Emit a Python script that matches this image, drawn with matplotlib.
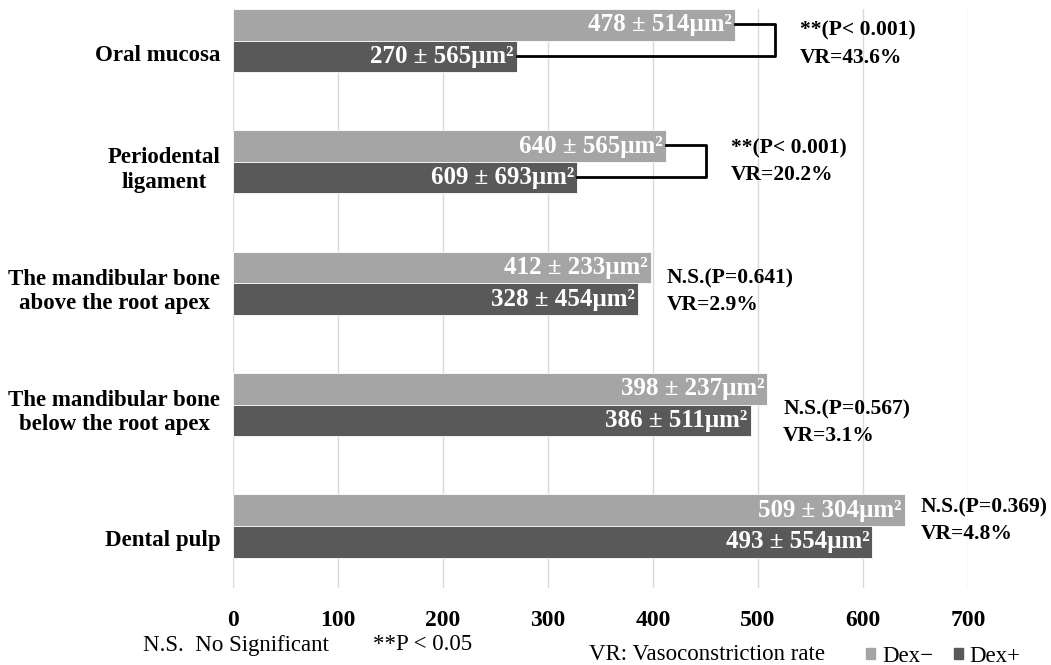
import matplotlib.pyplot as plt
from matplotlib.patches import Patch
from matplotlib.transforms import ScaledTranslation

plt.rcParams['font.family'] = ['Liberation Serif', 'DejaVu Serif']

# values (bar lengths as drawn, labels as printed)
categories = ['Oral mucosa', 'Periodental\nligament',
              'The mandibular bone\nabove the root apex',
              'The mandibular bone\nbelow the root apex', 'Dental pulp']
dex_minus = [478, 412, 398, 509, 640]
dex_plus = [270, 328, 386, 493, 609]
labels_minus = ['478 ± 514μm²', '640 ± 565μm²', '412 ± 233μm²', '398 ± 237μm²', '509 ± 304μm²']
labels_plus = ['270 ± 565μm²', '609 ± 693μm²', '328 ± 454μm²', '386 ± 511μm²', '493 ± 554μm²']
p_text = ['**(P< 0.001)', '**(P< 0.001)', 'N.S.(P=0.641)', 'N.S.(P=0.567)', 'N.S.(P=0.369)']
vr_text = ['VR=43.6%', 'VR=20.2%', 'VR=2.9%', 'VR=3.1%', 'VR=4.8%']
significant = [True, True, False, False, False]
xticks = [0, 100, 200, 300, 400, 500, 600, 700]

light = '#a5a5a5'
dark = '#595959'
h = 0.26

fig = plt.figure(figsize=(10.51, 6.65), dpi=100)
ax = fig.add_axes([233 / 1051, 1 - 587.5 / 665, (968 - 233) / 1051, (587.5 - 9) / 665])

y = list(range(len(categories)))
ax.barh([i - h / 2 for i in y], dex_minus, height=h, color=light, edgecolor='white', linewidth=0.6, zorder=2)
ax.barh([i + h / 2 for i in y], dex_plus, height=h, color=dark, edgecolor='white', linewidth=0.6, zorder=2)

ax.set_xlim(0, 700)
ax.set_ylim(4.507, -0.26)
ax.set_xticks(xticks)
ax.set_xticklabels([str(t) for t in xticks], fontsize=17, fontweight='bold')
ax.tick_params(axis='x', length=0, pad=16)
ax.grid(axis='x', color='#d9d9d9', linewidth=1, zorder=0)
ax.set_axisbelow(True)
for s in ax.spines.values():
    s.set_visible(False)

ax.set_yticks(y)
ax.set_yticklabels(categories, fontsize=16.5, fontweight='bold', multialignment='center')
ax.tick_params(axis='y', length=0, pad=9)
for lab in ax.get_yticklabels():
    dy = -0.12 if '\n' not in lab.get_text() else -0.04
    lab.set_transform(lab.get_transform() + ScaledTranslation(0, dy, fig.dpi_scale_trans))

# labels inside bars
for i in y:
    ax.text(dex_minus[i] - 3, i - h / 2, labels_minus[i], ha='right', va='center',
            color='white', fontsize=18, fontweight='bold', zorder=3)
    ax.text(dex_plus[i] - 3, i + h / 2, labels_plus[i], ha='right', va='center',
            color='white', fontsize=18, fontweight='bold', zorder=3)

# brackets and p-values
text_dy = [0.03, 0.0, 0.07, 0.15, -0.04]
for i in y:
    if significant[i]:
        xr = dex_minus[i] + 38
        ax.plot([dex_minus[i], xr, xr, dex_plus[i]],
                [i - 0.14, i - 0.14, i + 0.125, i + 0.125],
                color='black', linewidth=2, clip_on=False, zorder=3)
        tx = xr + 24
    else:
        tx = dex_minus[i] + 15
    ax.text(tx, i + text_dy[i], p_text[i] + '\n' + vr_text[i], ha='left', va='center',
            fontsize=15.5, fontweight='bold', linespacing=1.45, clip_on=False)

# footer notes
fig.text(143 / 1051, 1 - 645 / 665, 'N.S.  No Significant', ha='left', va='center', fontsize=16.5)
fig.text(373 / 1051, 1 - 645 / 665, '**P < 0.05', ha='left', va='center', fontsize=16.5)
fig.text(825 / 1051, 1 - 655 / 665, 'VR: Vasoconstriction rate', ha='right', va='center', fontsize=16.5)

handles = [Patch(color=light, label='Dex−'), Patch(color=dark, label='Dex+')]
fig.legend(handles=handles, loc='center left', bbox_to_anchor=(866 / 1051, 1 - 656 / 665),
           ncol=2, frameon=False, fontsize=16.5, handlelength=0.4, handleheight=0.4,
           handletextpad=0.3, columnspacing=0.9, borderpad=0, borderaxespad=0)

fig.savefig('out.png', dpi=100)
